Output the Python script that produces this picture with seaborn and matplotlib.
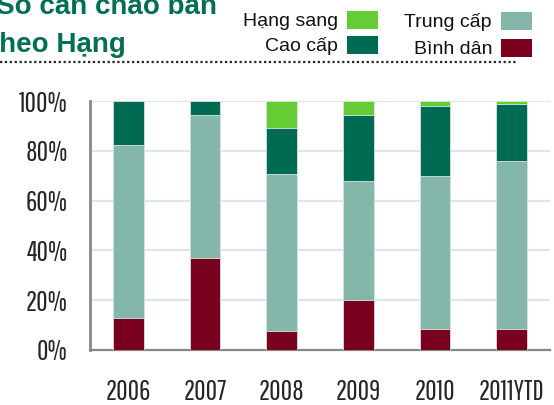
import matplotlib
matplotlib.use("Agg")
import matplotlib.pyplot as plt
from matplotlib.patches import Rectangle
from matplotlib.lines import Line2D
import seaborn as sns
import numpy as np

years = ["2006", "2007", "2008", "2009", "2010", "2011YTD"]
binh_dan = [13.0, 37.0, 7.6, 20.2, 8.6, 8.6]
trung_cap = [69.3, 57.5, 63.1, 47.8, 61.1, 67.3]
cao_cap = [17.7, 5.5, 18.5, 26.5, 28.4, 23.0]
hang_sang = [0.0, 0.0, 10.8, 5.5, 1.9, 1.1]
y_ticks = [0, 20, 40, 60, 80, 100]
y_labels = ["0%", "20%", "40%", "60%", "80%", "100%"]

c_bd = "#7a0020"
c_tc = "#84b7a9"
c_cc = "#006b53"
c_hs = "#66cc33"

sns.set_style("white")
plt.rcParams["font.family"] = ["Liberation Sans", "DejaVu Sans"]
narrow = ["Pathway Gothic One", "DejaVu Sans"]

W, H = 554, 405
fig = plt.figure(figsize=(W / 100, H / 100), dpi=100)
ax = fig.add_axes([90 / W, (H - 350) / H, 460 / W, 249 / H])

# stacked bars drawn as cumulative totals, tallest first
s1 = np.array(binh_dan)
s2 = s1 + np.array(trung_cap)
s3 = s2 + np.array(cao_cap)
s4 = s3 + np.array(hang_sang)
for vals, col in [(s4, c_hs), (s3, c_cc), (s2, c_tc), (s1, c_bd)]:
    sns.barplot(x=years, y=vals, color=col, width=0.4, ax=ax,
                edgecolor="#d8e8e2", linewidth=0.6, saturation=1, zorder=3)

ax.set_xlim(-0.5, 5.5)
ax.set_ylim(0, 100)
ax.set_xlabel("")
ax.set_ylabel("")
ax.set_yticks(y_ticks)
ax.set_yticklabels(y_labels, family=narrow, fontsize=20)
for y in y_ticks[1:]:
    ax.axhline(y, color="#e1e4ee", lw=1.6, zorder=1)

ax.set_xticks(np.arange(len(years)))
ax.set_xticklabels(years, family=narrow, fontsize=20)
ax.set_xticks(np.arange(-0.5, len(years), 1), minor=True)
ax.tick_params(axis="x", which="major", length=0, pad=21)
ax.tick_params(axis="x", which="minor", length=5, width=1.5, color="#888888", direction="out")
ax.tick_params(axis="y", length=8, width=1.5, color="#888888", direction="out", pad=8)

for side in ["top", "right"]:
    ax.spines[side].set_visible(False)
ax.spines["left"].set_color("#888888")
ax.spines["left"].set_linewidth(2)
ax.spines["bottom"].set_color("#888888")
ax.spines["bottom"].set_linewidth(1.6)

# title (cropped in the source image)
green = "#00704f"
fig.text(217 / W, 1 - 14 / H, "Số căn chào bán", ha="right", va="baseline",
         fontsize=20, fontweight="bold", color=green)
fig.text(-10 / W, 1 - 52 / H, "theo Hạng", ha="left", va="baseline",
         fontsize=20, fontweight="bold", color=green)
fig.add_artist(Line2D([0, 517 / W], [1 - 62 / H, 1 - 62 / H], color="#222222",
                      lw=1.6, ls=(0, (1, 1.2)), transform=fig.transFigure))

# legend
entries = [("Hạng sang", c_hs, 347, 11), ("Cao cấp", c_cc, 347, 36),
           ("Trung cấp", c_tc, 501, 12), ("Bình dân", c_bd, 501, 39)]
for label, col, x0, y0 in entries:
    fig.add_artist(Rectangle((x0 / W, 1 - (y0 + 18) / H), 31 / W, 18 / H,
                             facecolor=col, edgecolor="none", transform=fig.transFigure))
    fig.text((x0 - 9) / W, 1 - (y0 + 15) / H, label, ha="right", va="baseline",
             fontsize=14, color="#111111")

fig.savefig("out.png", dpi=100)
